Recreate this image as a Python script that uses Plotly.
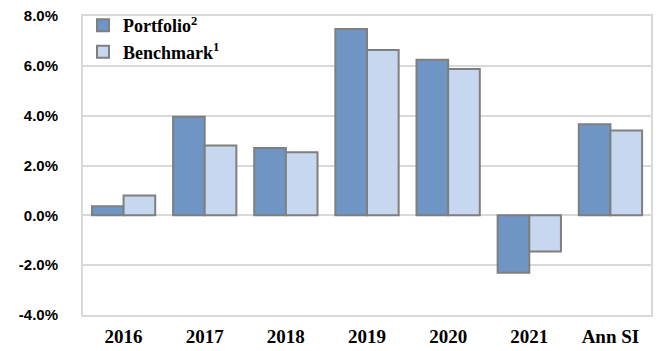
import plotly.graph_objects as go

categories = ["2016", "2017", "2018", "2019", "2020", "2021", "Ann SI"]
portfolio = [0.36, 3.96, 2.70, 7.48, 6.24, -2.30, 3.66]
benchmark = [0.80, 2.80, 2.53, 6.64, 5.87, -1.45, 3.40]
y_ticks = [-4, -2, 0, 2, 4, 6, 8]
y_labels = ["-4.0%", "-2.0%", "0.0%", "2.0%", "4.0%", "6.0%", "8.0%"]

fig = go.Figure()
fig.add_bar(x=categories, y=portfolio, name="Portfolio<sup>2</sup>",
            marker=dict(color="#6F95C5", line=dict(color="#7F7F7F", width=2)))
fig.add_bar(x=categories, y=benchmark, name="Benchmark<sup>1</sup>",
            marker=dict(color="#C6D7EF", line=dict(color="#7F7F7F", width=2)))

fig.update_layout(
    width=662, height=351,
    margin=dict(l=83, r=11, t=16, b=36, autoexpand=False),
    plot_bgcolor="white", paper_bgcolor="white",
    barmode="group", bargap=0.22, bargroupgap=0,
    showlegend=True,
    legend=dict(x=0.0, y=1.03, xanchor="left", yanchor="top",
                bgcolor="rgba(255,255,255,0)",
                font=dict(family="Liberation Serif", size=18, color="black", weight="bold"),
                tracegroupgap=0, itemwidth=30),
    xaxis=dict(showgrid=False, showline=True, linecolor="#D9D9D9", linewidth=2, mirror=True,
               tickfont=dict(family="Liberation Serif", size=19, color="black", weight="bold"),
               ticks="", ticklabelstandoff=3, automargin=False),
    yaxis=dict(range=[-4, 8], tickvals=y_ticks, ticktext=y_labels,
               showgrid=True, gridcolor="#D9D9D9", gridwidth=1.5,
               zeroline=True, zerolinecolor="#D9D9D9", zerolinewidth=1.5,
               showline=True, linecolor="#D9D9D9", linewidth=2, mirror=True,
               tickfont=dict(family="Liberation Sans", size=15, color="black", weight="bold"),
               ticks="", ticklabelstandoff=20, automargin=False),
)

fig.write_html("out.html")
